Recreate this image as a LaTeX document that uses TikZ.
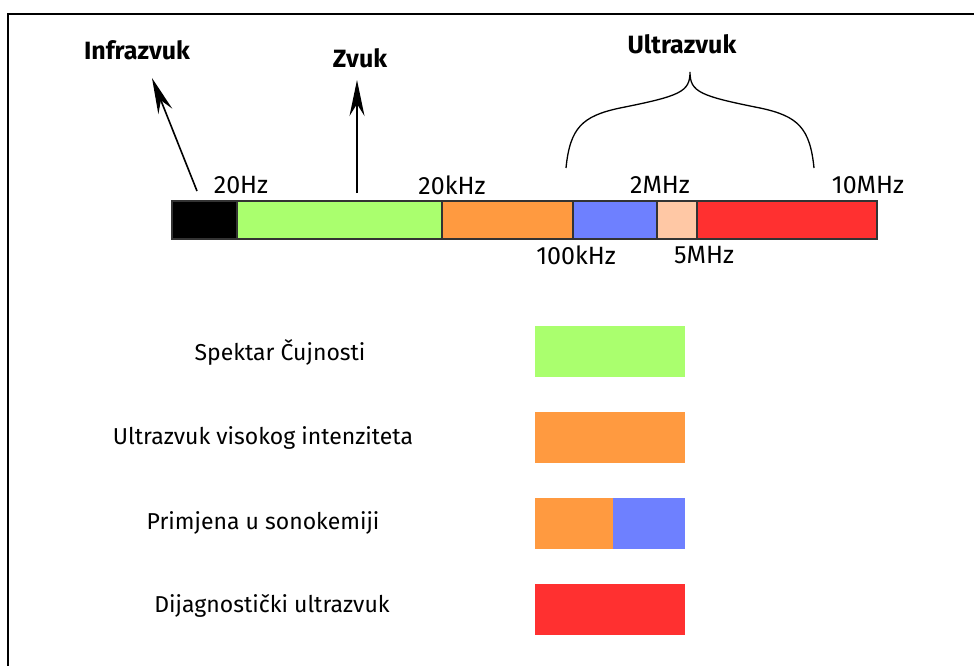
\documentclass[tikz,border=0pt]{standalone}
\usepackage{fontspec}
\setmainfont{Fira Sans}
\usepackage{tikz}
\usetikzlibrary{arrows.meta}
\definecolor{zvukgreen}{RGB}{170,255,110}
\definecolor{hiorange}{RGB}{255,154,64}
\definecolor{sonoblue}{RGB}{110,128,255}
\definecolor{mhzpeach}{RGB}{255,200,165}
\definecolor{diagred}{RGB}{255,48,48}
\def\barseg#1#2#3{\filldraw[fill=#3,draw=black!80,line width=1.2pt] (#1,201) rectangle (#2,239);}
\def\legendbox#1#2#3#4{\fill[#4] (#1,#3) rectangle (#2,#3+51);}

\begin{document}
\begin{tikzpicture}[x=1pt,y=-1pt,
	freq/.style={font=\fontsize{25}{28}\selectfont,inner sep=0pt},
	title/.style={font=\fontsize{25}{28}\selectfont\bfseries,inner sep=0pt},
	legend/.style={font=\fontsize{23}{26}\selectfont,inner sep=0pt},
	arr/.style={line width=1.6pt,-{Stealth[length=36pt,width=15pt,inset=12pt]}}]
			\clip (0,0) rectangle (974,666);
			\draw[line width=2.8pt] (8,14) rectangle (1000,700);
			% frequency bar
			\barseg{172}{237}{black}
			\barseg{237}{442}{zvukgreen}
			\barseg{442}{573}{hiorange}
			\barseg{573}{657}{sonoblue}
			\barseg{657}{697}{mhzpeach}
			\barseg{697}{877}{diagred}
			\node[freq] (hz20) at (241,185) {20Hz};
			\node[freq] (khz20) at (452,185) {20kHz};
			\node[freq] (mhz2) at (660,185) {2MHz};
			\node[freq] (mhz10) at (868,185) {10MHz};
			\node[freq] (khz100) at (576,255) {100kHz};
			\node[freq] (mhz5) at (704,255) {5MHz};
			% titles
			\node[title] (infra) at (137,50) {Infrazvuk};
			\node[title] (zvuk) at (360,58) {Zvuk};
			\node[title] (ultra) at (682,44) {Ultrazvuk};
			\coordinate (infratail) at (197,191);
			\coordinate (infratip) at (152,78);
			\coordinate (zvuktail) at (357,193);
			\coordinate (zvuktip) at (357,80);
			\draw[arr] (infratail) -- (infratip);
			\draw[arr] (zvuktail) -- (zvuktip);
			\coordinate (braceleft) at (566,168);
			\coordinate (bracetop) at (690,72);
			\coordinate (braceright) at (814,168);
			\draw[line width=1.3pt] (braceleft) .. controls (570,128) and (582,116) .. (620,108)
				.. controls (680,96) and (690,92) .. (bracetop)
				.. controls (690,92) and (700,96) .. (760,108)
				.. controls (798,116) and (810,128) .. (braceright);
			% legend
			\node[legend] (audible) at (280,352) {Spektar Čujnosti};
			\node[legend] (intense) at (263,438) {Ultrazvuk visokog intenziteta};
			\node[legend] (sono) at (263,523) {Primjena u sonokemiji};
			\node[legend] (diag) at (272,606) {Dijagnostički ultrazvuk};
			\legendbox{535}{685}{326}{zvukgreen}
			\legendbox{535}{685}{412}{hiorange}
			\legendbox{535}{613}{498}{hiorange}
			\legendbox{613}{685}{498}{sonoblue}
			\legendbox{535}{685}{584}{diagred}
		\end{tikzpicture}
\end{document}
